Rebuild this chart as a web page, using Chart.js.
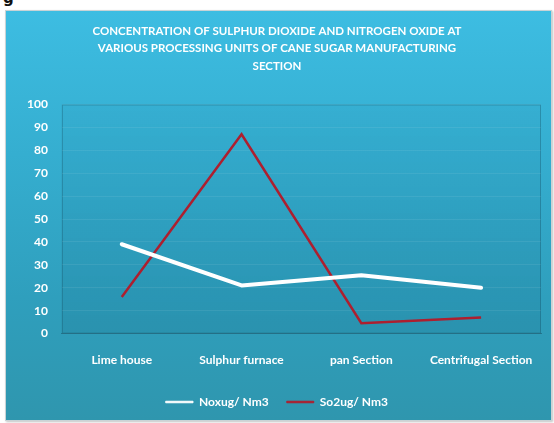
<!DOCTYPE html>
<html>
<head>
<meta charset="utf-8">
<script src="https://cdn.jsdelivr.net/npm/chart.js@4.4.1/dist/chart.umd.min.js"></script>
<style>
  html, body { margin: 0; padding: 0; background: #ffffff; width: 554px; height: 423px; overflow: hidden; }
  #frag { position: absolute; left: 3px; top: -11px; font: bold 15px "DejaVu Sans", sans-serif; color: #111; }
  #box {
    position: absolute; left: 5px; top: 10px; width: 545px; height: 409px;
    border: 1px solid #c9d3d6;
    background: linear-gradient(to bottom, #3dbde2 0%, #35aed0 35%, #2f9fbd 70%, #2f96ae 100%);
    box-shadow: 1px 1px 2px rgba(0,0,0,0.25);
  }
  canvas { display: block; }
</style>
</head>
<body>
<div id="frag">g</div>
<div id="box"><canvas id="c" width="545" height="409"></canvas></div>
<script>
const categories = ['Lime house', 'Sulphur furnace', 'pan Section', 'Centrifugal Section'];
const noxValues = [39, 21, 25.5, 20];
const so2Values = [16, 87, 4.5, 7];
const yTicks = [0, 10, 20, 30, 40, 50, 60, 70, 80, 90, 100];
const titleLines = [
  'CONCENTRATION OF SULPHUR DIOXIDE AND NITROGEN OXIDE AT',
  'VARIOUS PROCESSING UNITS OF CANE SUGAR MANUFACTURING',
  'SECTION'
];

const FONT = 'Lato, "Open Sans", sans-serif';

// Shaded plot area with a faint outline behind the series
const plotArea = {
  id: 'plotArea',
  beforeDraw(chart) {
    const { ctx, chartArea: a } = chart;
    ctx.save();
    const g = ctx.createLinearGradient(0, a.top, 0, a.bottom);
    g.addColorStop(0, 'rgba(0,60,90,0.03)');
    g.addColorStop(1, 'rgba(0,60,90,0.10)');
    ctx.fillStyle = g;
    ctx.fillRect(a.left, a.top, a.right - a.left, a.bottom - a.top);
    ctx.strokeStyle = 'rgba(20,80,100,0.35)';
    ctx.lineWidth = 1;
    ctx.strokeRect(a.left + 0.5, a.top + 0.5, a.right - a.left - 1, a.bottom - a.top - 1);
    ctx.restore();
  }
};

new Chart(document.getElementById('c'), {
  type: 'line',
  data: {
    labels: categories,
    datasets: [
      {
        label: 'Noxug/ Nm3',
        data: noxValues,
        borderColor: '#ffffff',
        backgroundColor: '#ffffff',
        borderWidth: 4,
        borderCapStyle: 'round',
        borderJoinStyle: 'round',
        pointRadius: 0,
        tension: 0
      },
      {
        label: 'So2ug/ Nm3',
        data: so2Values,
        borderColor: '#ad1f2f',
        backgroundColor: '#ad1f2f',
        borderWidth: 2.5,
        pointRadius: 0,
        tension: 0
      }
    ]
  },
  options: {
    responsive: false,
    animation: false,
    layout: { padding: { left: 7, right: 10, top: 0, bottom: 2 } },
    plugins: {
      title: {
        display: true,
        text: titleLines,
        color: '#ffffff',
        font: { family: FONT, size: 11.5, weight: 'bold', lineHeight: 1.55 },
        padding: { top: 11, bottom: 29 }
      },
      legend: {
        position: 'bottom',
        labels: {
          color: '#ffffff',
          font: { family: FONT, size: 12, weight: 'bold' },
          boxWidth: 27,
          boxHeight: 1.5,
          padding: 18,
          generateLabels(chart) {
            // thin swatch lines instead of the series' full stroke width
            return Chart.defaults.plugins.legend.labels.generateLabels(chart)
              .map(item => Object.assign(item, { lineWidth: 1 }));
          }
        }
      },
      tooltip: { enabled: false }
    },
    scales: {
      x: {
        offset: true,
        grid: { display: false },
        border: { display: true, color: 'rgba(20,80,100,0.5)' },
        ticks: {
          color: '#ffffff',
          font: { family: FONT, size: 12, weight: 'bold' },
          padding: 11,
          maxRotation: 0
        }
      },
      y: {
        min: 0,
        max: 100,
        afterBuildTicks(axis) { axis.ticks = yTicks.map(v => ({ value: v })); },
        grid: { color: 'rgba(255,255,255,0.07)', drawTicks: false },
        border: { display: false },
        ticks: {
          color: '#ffffff',
          font: { family: FONT, size: 12, weight: 'bold' },
          padding: 14
        }
      }
    }
  },
  plugins: [plotArea]
});
</script>
</body>
</html>
